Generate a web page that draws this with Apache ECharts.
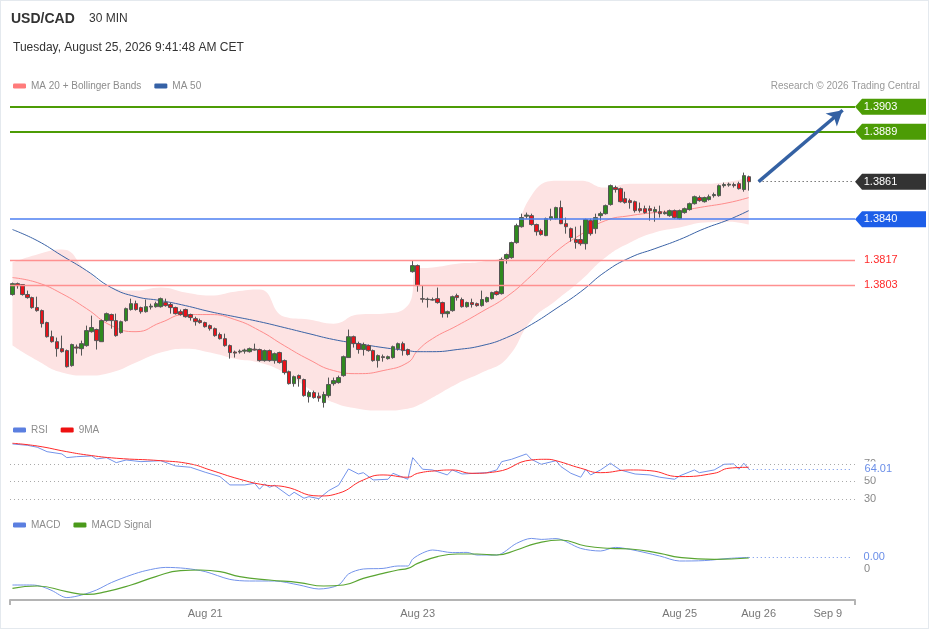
<!DOCTYPE html>
<html>
<head>
<meta charset="utf-8">
<title>USD/CAD 30 MIN</title>
<script src="https://cdn.jsdelivr.net/npm/echarts@6.0.0/dist/echarts.min.js"></script>
<style>
  html, body { margin: 0; padding: 0; background: #fff; }
  #chart { width: 929px; height: 629px; }
  #frame { position: absolute; left: 0; top: 0; width: 927px; height: 627px; border: 1px solid #e4e9ee; pointer-events: none; }
</style>
</head>
<body>
<div id="chart"></div>
<div id="frame"></div>
<script>
// candles: [open, close, low, high]
const candles = [
  [1.37978,1.38039,1.37972,1.38045],[1.38039,1.38028,1.38011,1.38045],[1.38034,1.37978,1.37972,1.38034],
  [1.37978,1.37961,1.37955,1.38000],[1.37961,1.37905,1.37899,1.37966],[1.37905,1.37888,1.37882,1.37966],
  [1.37888,1.37815,1.37793,1.37894],[1.37821,1.37742,1.37737,1.37826],[1.37742,1.37714,1.37709,1.37776],
  [1.37714,1.37675,1.37630,1.37737],[1.37675,1.37658,1.37653,1.37748],[1.37664,1.37574,1.37569,1.37670],
  [1.37580,1.37698,1.37574,1.37703],[1.37684,1.37678,1.37647,1.37698],[1.37675,1.37703,1.37636,1.37720],
  [1.37692,1.37776,1.37686,1.37804],[1.37770,1.37793,1.37765,1.37860],[1.37782,1.37720,1.37670,1.37787],
  [1.37714,1.37832,1.37714,1.37838],[1.37832,1.37871,1.37826,1.37877],[1.37866,1.37832,1.37787,1.37871],
  [1.37832,1.37748,1.37742,1.37871],[1.37765,1.37826,1.37759,1.37832],[1.37832,1.37899,1.37826,1.37905],
  [1.37894,1.37927,1.37888,1.37955],[1.37927,1.37894,1.37888,1.37944],[1.37905,1.37882,1.37871,1.37910],
  [1.37882,1.37910,1.37877,1.37950],[1.37908,1.37913,1.37894,1.37927],[1.37910,1.37927,1.37905,1.37938],
  [1.37910,1.37955,1.37905,1.37961],[1.37933,1.37916,1.37910,1.37955],[1.37922,1.37905,1.37871,1.37933],
  [1.37905,1.37871,1.37866,1.37910],[1.37882,1.37866,1.37860,1.37894],[1.37894,1.37854,1.37849,1.37899],
  [1.37866,1.37849,1.37832,1.37871],[1.37843,1.37826,1.37804,1.37854],[1.37832,1.37821,1.37815,1.37843],
  [1.37821,1.37798,1.37793,1.37826],[1.37804,1.37787,1.37776,1.37810],[1.37787,1.37748,1.37742,1.37793],
  [1.37754,1.37731,1.37726,1.37765],[1.37731,1.37692,1.37686,1.37759],[1.37692,1.37653,1.37619,1.37698],
  [1.37656,1.37650,1.37625,1.37664],[1.37656,1.37661,1.37647,1.37670],[1.37661,1.37667,1.37647,1.37675],
  [1.37658,1.37675,1.37653,1.37681],[1.37672,1.37667,1.37664,1.37703],[1.37670,1.37608,1.37602,1.37675],
  [1.37608,1.37664,1.37602,1.37670],[1.37664,1.37608,1.37602,1.37670],[1.37608,1.37647,1.37591,1.37653],
  [1.37653,1.37597,1.37591,1.37658],[1.37608,1.37541,1.37530,1.37614],[1.37546,1.37479,1.37474,1.37552],
  [1.37479,1.37518,1.37462,1.37524],[1.37524,1.37507,1.37462,1.37530],[1.37502,1.37412,1.37406,1.37507],
  [1.37406,1.37429,1.37373,1.37440],[1.37429,1.37401,1.37395,1.37440],[1.37409,1.37398,1.37378,1.37429],
  [1.37373,1.37418,1.37345,1.37434],[1.37412,1.37474,1.37401,1.37513],[1.37479,1.37496,1.37468,1.37513],
  [1.37485,1.37513,1.37479,1.37524],[1.37524,1.37630,1.37518,1.37636],[1.37625,1.37742,1.37625,1.37782],
  [1.37742,1.37703,1.37681,1.37748],[1.37703,1.37670,1.37647,1.37714],[1.37670,1.37698,1.37636,1.37709],
  [1.37692,1.37664,1.37658,1.37698],[1.37664,1.37608,1.37602,1.37670],[1.37608,1.37636,1.37569,1.37642],
  [1.37630,1.37625,1.37602,1.37642],[1.37619,1.37630,1.37614,1.37636],[1.37625,1.37686,1.37619,1.37692],
  [1.37675,1.37703,1.37664,1.37709],[1.37703,1.37664,1.37636,1.37714],[1.37670,1.37642,1.37636,1.37675],
  [1.38106,1.38140,1.38101,1.38168],[1.38140,1.38028,1.37994,1.38146],[1.37955,1.37952,1.37933,1.38028],
  [1.37950,1.37952,1.37905,1.37961],[1.37947,1.37950,1.37944,1.37961],[1.37955,1.37933,1.37927,1.38017],
  [1.37933,1.37871,1.37849,1.37938],[1.37871,1.37882,1.37849,1.37888],[1.37888,1.37966,1.37882,1.37972],
  [1.37972,1.37961,1.37944,1.37983],[1.37950,1.37910,1.37905,1.37961],[1.37910,1.37933,1.37905,1.37938],
  [1.37933,1.37922,1.37905,1.37955],[1.37927,1.37916,1.37910,1.37933],[1.37916,1.37950,1.37910,1.38000],
  [1.37938,1.37961,1.37933,1.37966],[1.37955,1.37989,1.37950,1.37994],[1.37994,1.37978,1.37972,1.38000],
  [1.37983,1.38174,1.37978,1.38185],[1.38179,1.38202,1.38151,1.38207],[1.38185,1.38269,1.38179,1.38274],
  [1.38269,1.38364,1.38263,1.38375],[1.38358,1.38409,1.38353,1.38431],[1.38417,1.38423,1.38403,1.38437],
  [1.38420,1.38370,1.38364,1.38431],[1.38370,1.38330,1.38308,1.38375],[1.38336,1.38314,1.38308,1.38347],
  [1.38308,1.38403,1.38305,1.38409],[1.38403,1.38414,1.38392,1.38459],[1.38403,1.38465,1.38398,1.38470],
  [1.38465,1.38375,1.38372,1.38504],[1.38375,1.38358,1.38319,1.38409],[1.38347,1.38297,1.38274,1.38353],
  [1.38286,1.38269,1.38235,1.38358],[1.38286,1.38263,1.38252,1.38364],[1.38263,1.38398,1.38230,1.38403],
  [1.38392,1.38319,1.38308,1.38403],[1.38347,1.38409,1.38319,1.38431],[1.38420,1.38431,1.38392,1.38442],
  [1.38431,1.38476,1.38426,1.38482],[1.38482,1.38588,1.38476,1.38594],[1.38577,1.38566,1.38549,1.38588],
  [1.38571,1.38498,1.38493,1.38577],[1.38515,1.38493,1.38487,1.38554],[1.38504,1.38493,1.38459,1.38515],
  [1.38498,1.38448,1.38437,1.38504],[1.38459,1.38448,1.38437,1.38493],[1.38459,1.38437,1.38431,1.38476],
  [1.38459,1.38448,1.38392,1.38476],[1.38442,1.38454,1.38386,1.38470],[1.38442,1.38431,1.38409,1.38476],
  [1.38431,1.38437,1.38426,1.38448],[1.38420,1.38448,1.38414,1.38454],[1.38448,1.38409,1.38403,1.38454],
  [1.38403,1.38448,1.38398,1.38454],[1.38437,1.38459,1.38431,1.38465],[1.38454,1.38487,1.38448,1.38493],
  [1.38487,1.38526,1.38482,1.38532],[1.38521,1.38504,1.38498,1.38532],[1.38498,1.38521,1.38493,1.38526],
  [1.38510,1.38526,1.38504,1.38538],[1.38532,1.38538,1.38521,1.38549],[1.38532,1.38588,1.38526,1.38594],
  [1.38588,1.38594,1.38577,1.38605],[1.38591,1.38596,1.38582,1.38605],[1.38594,1.38588,1.38577,1.38605],
  [1.38599,1.38571,1.38566,1.38610],[1.38566,1.38644,1.38554,1.38661],[1.38638,1.38610,1.38560,1.38644]
];

// moving averages and bands, read at these candle indices
const bandIdx = [0,5,10,15,20,25,30,35,40,45,50,55,60,65,70,75,80,82,85,90,95,100,105,110,115,120,125,130,135,140,145,149];
const ma20 = [1.38073,1.38045,1.37983,1.37899,1.37804,1.37770,1.37821,1.37866,1.37866,1.37838,1.37776,1.37692,1.37614,1.37552,1.37535,1.37552,
  1.37597,1.37664,1.37731,1.37804,1.37882,1.37966,1.38084,1.38218,1.38314,1.38392,1.38420,1.38437,1.38448,1.38470,1.38493,1.38521];
const ma50 = [1.38342,1.38280,1.38196,1.38112,1.38017,1.37966,1.37944,1.37916,1.37882,1.37854,1.37826,1.37793,1.37759,1.37726,1.37703,1.37681,
  1.37664,1.37658,1.37658,1.37670,1.37692,1.37737,1.37810,1.37899,1.37994,1.38106,1.38185,1.38235,1.38286,1.38347,1.38398,1.38448];
const bbUpper = [1.38157,1.38202,1.38230,1.38112,1.38017,1.38000,1.38017,1.37989,1.37972,1.37994,1.38006,1.37854,1.37838,1.37815,1.37866,1.37871,
  1.37916,1.38123,1.38129,1.38151,1.38162,1.38213,1.38532,1.38616,1.38616,1.38577,1.38599,1.38599,1.38599,1.38599,1.38610,1.38633];
const bbLower = [1.37692,1.37608,1.37541,1.37524,1.37541,1.37597,1.37653,1.37675,1.37653,1.37619,1.37597,1.37541,1.37451,1.37373,1.37339,1.37328,
  1.37339,1.37356,1.37401,1.37479,1.37541,1.37619,1.37832,1.37944,1.38056,1.38185,1.38269,1.38325,1.38353,1.38381,1.38386,1.38370];

// RSI and its 9 period average
const rsiIdx = [0,3,5,7,10,11,13,16,17,19,21,23,26,30,33,36,39,42,44,47,49,50,51,52,53,56,57,59,60,62,64,66,68,70,71,73,76,77,80,81,
  83,85,88,89,91,96,98,99,101,104,105,107,110,111,113,115,116,117,119,121,123,126,129,131,134,135,138,139,142,144,146,147,148,149];
const rsi = [92.6,91.1,88.9,83.8,81.2,77.0,78.1,78.9,75.5,77.0,71.3,74.3,72.4,73.5,67.5,66.0,60.3,55.3,45.8,45.8,47.7,40.9,46.9,43.1,45.4,
  33.2,37.4,30.6,32.4,30.1,39.3,45.4,64.1,58.3,59.8,51.5,52.3,59.1,52.3,77.0,63.7,62.9,57.2,62.9,58.3,59.8,62.9,72.4,75.1,81.2,
  75.1,69.4,73.5,66.7,59.1,54.6,63.7,57.2,62.9,70.6,62.9,58.3,57.2,54.6,52.3,56.1,62.9,59.8,62.9,69.4,69.8,63.7,70.6,64.01];
const rsiMaIdx = [0,5,11,15,21,30,36,40,46,51,55,62,66,71,75,80,82,86,89,93,98,105,108,110,115,119,125,129,135,142,145,149];
const rsiMa = [93.4,90.3,83.8,80.1,76.3,73.5,69.8,62.9,52.3,45.8,43.8,33.2,36.3,51.5,57.2,54.6,59.1,62.1,62.9,59.1,61.0,74.3,75.1,73.5,
  64.9,59.8,62.9,62.1,55.3,59.1,64.9,66.0];
const rsiLevels = [70, 50, 30];

// MACD and signal
const macdIdx = [0,4,6,8,11,14,17,20,24,27,31,35,39,44,48,53,58,62,66,68,71,75,78,80,81,83,85,89,92,94,98,102,105,107,110,115,119,122,125,131,135,140,145,149];
const macd = [-0.0008,-0.0008,-0.00088,-0.00108,-0.00143,-0.0013,-0.00105,-0.00068,-0.0003,-0.00008,0.00008,0.00003,-0.00013,-0.00052,-0.0006,
  -0.0006,-0.0008,-0.001,-0.0008,-0.00025,0,0.00003,0.00015,0.00015,0.0005,0.0008,0.00095,0.00082,0.00083,0.0007,0.0007,0.00128,0.00153,
  0.00148,0.00152,0.00103,0.0009,0.00108,0.00098,0.00065,0.0004,0.00042,0.00053,0.00058];
const signalIdx = [0,5,11,15,19,24,29,34,38,42,46,52,58,63,67,71,75,78,80,82,86,90,94,98,102,106,111,116,121,125,131,135,142,149];
const signal = [-0.00097,-0.00085,-0.00113,-0.00127,-0.00113,-0.0008,-0.00038,-0.00008,-0.00005,-0.00013,-0.00038,-0.00055,-0.00068,-0.00085,
  -0.0008,-0.00047,-0.00022,-0.00005,0.00003,0.00028,0.00062,0.00075,0.00075,0.0007,0.00095,0.00128,0.00145,0.00115,0.00103,0.001,0.00078,
  0.00058,0.00048,0.00055];

// price levels and date labels
const lastPrice = 1.3861;
const targets = [1.3903, 1.3889];
const pivot = 1.3840;
const supports = [1.3817, 1.3803];
const arrowEnd = 1.3901;
const labelIdx = [39, 82, 135, 151, 165];
const labelText = ['Aug 21', 'Aug 23', 'Aug 25', 'Aug 26', 'Sep 9'];
const slots = 171;

const xData = Array.from({ length: slots }, (_, i) => String(i));
const pairs = (idx, vals) => idx.map((x, i) => [x, vals[i]]);
const lastIdx = candles.length - 1;
const endIdx = slots - 1;

const GREEN = '#4c9c05', BLUE = '#1d5ee8', DARK = '#333333';
const tagSymbol = 'path://M0,8L7,0L71,0L71,16L7,16Z';
const tag = (v, color) => ({ coord: [endIdx, v], value: v.toFixed(4), itemStyle: { color } });
const dotted = [1, 3];
// horizontal level across the whole pane
const level = (v, style, label) => ({ yAxis: v, lineStyle: style, label: label || { show: false } });
const endLabel = (text, color) => ({ show: true, position: 'end', distance: 9, formatter: text, color, fontSize: 11 });

const chart = echarts.init(document.getElementById('chart'));

const hiddenX = (gridIndex) => ({
  type: 'category', gridIndex, data: xData, boundaryGap: true, show: false
});

chart.setOption({
  animation: false,
  textStyle: { fontFamily: 'Liberation Sans, Arial, sans-serif' },
  title: [
    { text: 'USD/CAD', left: 11, top: 12, padding: 0, textStyle: { fontSize: 14, fontWeight: 'bold', color: '#333' } },
    { text: '30 MIN', left: 89, top: 13, padding: 0, textStyle: { fontSize: 12, fontWeight: 'normal', color: '#333' } },
    { text: 'Tuesday, August 25, 2026 9:41:48 AM CET', left: 13, top: 42, padding: 0,
      textStyle: { fontSize: 12, fontWeight: 'normal', color: '#333' } },
    { text: 'Research © 2026 Trading Central', right: 9, top: 81, padding: 0,
      textStyle: { fontSize: 10, fontWeight: 'normal', color: '#999' } }
  ],
  legend: [
    { data: ['MA 20 + Bollinger Bands', 'MA 50'], left: 13, top: 81, padding: 0, itemGap: 13, icon: 'roundRect',
      itemWidth: 13, itemHeight: 5, textStyle: { fontSize: 10, color: '#8c8c8c' }, selectedMode: false },
    { data: ['RSI', '9MA'], left: 13, top: 425, padding: 0, itemGap: 13, icon: 'roundRect',
      itemWidth: 13, itemHeight: 5, textStyle: { fontSize: 10, color: '#8c8c8c' }, selectedMode: false },
    { data: ['MACD', 'MACD Signal'], left: 13, top: 520, padding: 0, itemGap: 13, icon: 'roundRect',
      itemWidth: 13, itemHeight: 5, textStyle: { fontSize: 10, color: '#8c8c8c' }, selectedMode: false }
  ],
  grid: [
    { left: 10, right: 74, top: 96, height: 319.6 },
    { left: 10, right: 74, top: 437.5, height: 87.5 },
    { left: 10, right: 74, top: 535, height: 65 }
  ],
  xAxis: [
    hiddenX(0),
    hiddenX(1),
    {
      type: 'category', gridIndex: 2, data: xData, boundaryGap: true,
      axisLine: { onZero: false, lineStyle: { color: '#b4b4b4', width: 2 } },
      axisTick: { show: true, length: 5, interval: (i) => i === 0 || i === slots, lineStyle: { color: '#b4b4b4', width: 2 } },
      axisLabel: {
        interval: (i) => labelIdx.indexOf(i) >= 0,
        formatter: (v, i) => labelText[labelIdx.indexOf(i)] || '',
        color: '#777', fontSize: 11, margin: 8
      }
    }
  ],
  yAxis: [
    { type: 'value', gridIndex: 0, min: 1.3730, max: 1.3909, show: false },
    { type: 'value', gridIndex: 1, min: 0, max: 100, show: false },
    { type: 'value', gridIndex: 2, min: -0.00155, max: 0.0017, show: false }
  ],
  series: [
    {
      name: 'bbLow', type: 'line', xAxisIndex: 0, yAxisIndex: 0, stack: 'bb', smooth: true, symbol: 'none',
      data: pairs(bandIdx, bbLower), lineStyle: { width: 0 }, z: 1, silent: true
    },
    {
      name: 'bbBand', type: 'line', xAxisIndex: 0, yAxisIndex: 0, stack: 'bb', smooth: true, symbol: 'none',
      data: pairs(bandIdx, bbUpper.map((v, i) => v - bbLower[i])),
      lineStyle: { width: 0 }, areaStyle: { color: '#fde3e3', opacity: 1 }, z: 1, silent: true
    },
    {
      name: 'MA 20 + Bollinger Bands', type: 'line', xAxisIndex: 0, yAxisIndex: 0, smooth: true, symbol: 'none',
      data: pairs(bandIdx, ma20), itemStyle: { color: '#ff7b7b' }, lineStyle: { color: '#ff8c8c', width: 1 }, z: 2
    },
    {
      name: 'MA 50', type: 'line', xAxisIndex: 0, yAxisIndex: 0, smooth: true, symbol: 'none', clip: false,
      data: pairs(bandIdx, ma50), itemStyle: { color: '#3561a6' }, lineStyle: { color: '#3b63a6', width: 1 }, z: 2,
      markLine: {
        silent: true, precision: 5, symbol: ['none', 'none'], label: { show: false },
        data: [
          level(targets[0], { color: GREEN, width: 2, type: 'solid' }),
          level(targets[1], { color: GREEN, width: 2, type: 'solid' }),
          level(pivot, { color: '#4d7ff2', width: 1.6, type: 'solid' }),
          ...supports.map((v) => level(v, { color: '#ff9090', width: 1.3, type: 'solid' }, endLabel(v.toFixed(4), '#ff2a2a'))),
          [
            { coord: [lastIdx + 2, lastPrice], lineStyle: { color: '#333', width: 1, type: dotted } },
            { coord: [endIdx, lastPrice] }
          ],
          [
            { coord: [lastIdx + 2, lastPrice], symbol: 'none', lineStyle: { color: '#3461a3', width: 3.5, type: 'solid' } },
            { coord: [endIdx - 2, arrowEnd], symbol: 'arrow', symbolSize: [13, 15] }
          ]
        ]
      },
      markPoint: {
        silent: true, symbol: tagSymbol, symbolSize: [71, 16], symbolKeepAspect: false, symbolOffset: [38, 0],
        label: { show: true, formatter: (p) => p.value, color: '#fff', fontSize: 11, offset: [-10, 0] },
        data: [tag(targets[0], GREEN), tag(targets[1], GREEN), tag(lastPrice, DARK), tag(pivot, BLUE)]
      }
    },
    {
      name: 'USD/CAD', type: 'candlestick', xAxisIndex: 0, yAxisIndex: 0, data: candles, barWidth: 4, z: 3,
      itemStyle: { color: '#2f8a1f', color0: '#e8121a', borderColor: '#555', borderColor0: '#555', borderWidth: 1 }
    },
    {
      name: 'RSI', type: 'line', xAxisIndex: 1, yAxisIndex: 1, symbol: 'none', clip: false,
      data: pairs(rsiIdx, rsi), itemStyle: { color: '#5b7fe0' }, lineStyle: { color: '#7393ea', width: 1 }, z: 2,
      markLine: {
        silent: true, precision: 2, symbol: ['none', 'none'],
        data: [
          ...rsiLevels.map((v) => level(v, { color: '#aaa', width: 1, type: dotted }, endLabel(String(v), '#888'))),
          [
            { coord: [lastIdx, rsi[rsi.length - 1]], lineStyle: { color: '#6a8ee8', width: 1.2, type: dotted },
              label: { show: true, position: 'end', distance: 11, formatter: rsi[rsi.length - 1].toFixed(2),
                color: '#6a8ee8', fontSize: 11, backgroundColor: '#fff', padding: [3, 2, 1, 1] } },
            { coord: [endIdx, rsi[rsi.length - 1]] }
          ]
        ]
      }
    },
    {
      name: '9MA', type: 'line', xAxisIndex: 1, yAxisIndex: 1, symbol: 'none', smooth: true,
      data: pairs(rsiMaIdx, rsiMa), itemStyle: { color: '#ee1111' }, lineStyle: { color: '#ff2a2a', width: 1 }, z: 3
    },
    {
      name: 'MACD', type: 'line', xAxisIndex: 2, yAxisIndex: 2, symbol: 'none', smooth: 0.3, clip: false,
      data: pairs(macdIdx, macd), itemStyle: { color: '#5b7fe0' }, lineStyle: { color: '#7393ea', width: 1 }, z: 2,
      markLine: {
        silent: true, precision: 6, symbol: ['none', 'none'],
        data: [
          level(0, { color: 'transparent', width: 0 }, endLabel('0', '#888')),
          [
            { coord: [lastIdx, macd[macd.length - 1]], lineStyle: { color: '#6a8ee8', width: 1.2, type: dotted },
              label: { show: true, position: 'end', distance: 11, formatter: macd[macd.length - 1].toFixed(2),
                color: '#6a8ee8', fontSize: 11 } },
            { coord: [endIdx, macd[macd.length - 1]] }
          ]
        ]
      }
    },
    {
      name: 'MACD Signal', type: 'line', xAxisIndex: 2, yAxisIndex: 2, symbol: 'none', smooth: true,
      data: pairs(signalIdx, signal), itemStyle: { color: '#4a9a1a' }, lineStyle: { color: '#5aa532', width: 1.2 }, z: 3
    }
  ]
});
</script>
</body>
</html>
